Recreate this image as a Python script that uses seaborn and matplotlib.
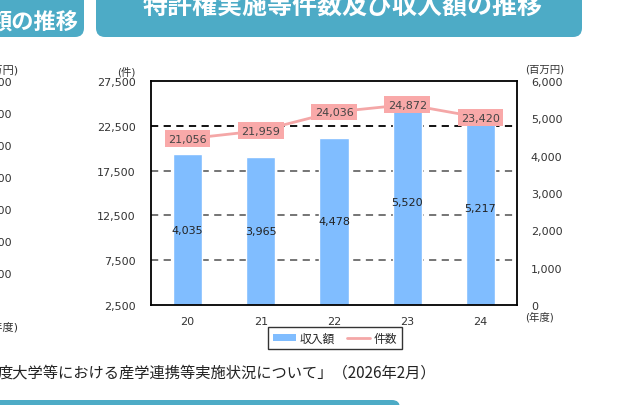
import matplotlib
matplotlib.use("Agg")
import matplotlib.pyplot as plt
import matplotlib.transforms as mtrans
import seaborn as sns
import numpy as np
import pandas as pd
from matplotlib.patches import FancyBboxPatch, Rectangle
from matplotlib.lines import Line2D

# ---------------- data ----------------
years = ["20", "21", "22", "23", "24"]
income = [4035, 3965, 4478, 5520, 5217]          # 収入額 (百万円)
counts = [21056, 21959, 24036, 24872, 23420]     # 件数 (件)
left_ticks = [2500, 7500, 12500, 17500, 22500, 27500]
right_ticks = [0, 1000, 2000, 3000, 4000, 5000, 6000]
grid_vals = [7500, 12500, 17500, 22500]
prev_ticks = ["7,000", "6,000", "5,000", "4,000", "3,000", "2,000", "1,000"]
title = "特許権実施等件数及び収入額の推移"
prev_title = "額の推移"
source = "度大学等における産学連携等実施状況について」（2026年2月）"
legend_labels = ["収入額", "件数"]

BLUE = "#80BDFF"
PINK = "#F4A7A7"
PINK_BOX = "#F9A9A9"
TEAL = "#4DABC6"

sns.set_theme(style="white")
plt.rcParams['font.family'] = ['DejaVu Sans', 'Noto Sans CJK JP']
JP = ['Noto Sans CJK JP', 'DejaVu Sans']

W, H = 618, 406
fig = plt.figure(figsize=(W / 100, H / 100), dpi=100)
fig.patch.set_facecolor("white")
ident = mtrans.IdentityTransform()

def fx(px):
    return px / W

def fy(py):
    return 1 - py / H

# ---------------- banners ----------------
fig.add_artist(FancyBboxPatch((96, H - 38), 486, 60,
                              boxstyle="round,pad=0,rounding_size=9",
                              transform=ident, fc=TEAL, ec="none"))
fig.add_artist(FancyBboxPatch((-30, H - 38), 114, 60,
                              boxstyle="round,pad=0,rounding_size=9",
                              transform=ident, fc=TEAL, ec="none"))
fig.add_artist(FancyBboxPatch((-30, -30), 430, 35,
                              boxstyle="round,pad=0,rounding_size=8",
                              transform=ident, fc=TEAL, ec="none"))
fig.text(fx(343), fy(7), title, color="white", fontsize=18, fontweight="bold",
         ha="center", va="center", family=JP)
fig.text(fx(79), fy(23), prev_title, color="white", fontsize=16, fontweight="bold",
         ha="right", va="center", family=JP)
fig.text(fx(-2), fy(373), source, color="#222", fontsize=11, ha="left",
         va="center", family=JP)

# left (cut) chart remnants
fig.text(fx(18), fy(70), "(百万円)", fontsize=8, color="#333", ha="right", va="center")
for k, lab in enumerate(prev_ticks):
    fig.text(fx(12), fy(83 + k * 32), lab, fontsize=8, color="#333", ha="right", va="center")
fig.text(fx(18), fy(327), "(年度)", fontsize=8, color="#333", ha="right", va="center")

# ---------------- main chart ----------------
L, R, T, B = 151, 517, 82, 306
ax = fig.add_axes([fx(L), fy(B), (R - L) / W, (B - T) / H])
axb = ax.twinx()
axl = ax.twinx()
ax.set_zorder(0)
axb.set_zorder(1)
axl.set_zorder(2)
for a in (axb, axl):
    a.patch.set_visible(False)
ax.patch.set_facecolor("white")

# grid on left scale
for g in grid_vals:
    ax.axhline(g, color="black" if g == 22500 else "#6a6a6a", lw=1.3,
               ls=(0, (4, 3)), zorder=0)

sns.barplot(x=years, y=income, color=BLUE, saturation=1, width=0.4, ax=axb)
axb.bar_label(axb.containers[0], labels=[f"{v:,}" for v in income],
              label_type="center", fontsize=8, color="#222")

sns.pointplot(x=years, y=counts, color=PINK, marker="", markersize=0,
              linewidth=2, errorbar=None, ax=axl)
for i, v in enumerate(counts):
    axl.text(i, v, f"{v:,}", ha="center", va="center", fontsize=8, color="#444",
             bbox=dict(boxstyle="square,pad=0.3", fc=PINK_BOX, ec="none"))

for a in (ax, axb, axl):
    a.set_xlim(-0.5, 4.5)
ax.set_ylim(2500, 27500)
axl.set_ylim(2500, 27500)
axb.set_ylim(0, 6000)

ax.set_yticks(left_ticks, [f"{t:,}" for t in left_ticks])
axb.set_yticks(right_ticks, [f"{t:,}" for t in right_ticks])
axl.set_yticks([])
ax.set_xticks(range(len(years)), years)
for a in (ax, axb, axl):
    a.set_xlabel("")
    a.set_ylabel("")
ax.tick_params(axis="y", length=0, pad=11, labelsize=8, labelcolor="#333")
axb.tick_params(axis="y", length=0, pad=10, labelsize=8, labelcolor="#333")
ax.tick_params(axis="x", length=0, pad=8, labelsize=8, labelcolor="#333")

for a in (ax, axb):
    for s in a.spines.values():
        s.set_visible(False)
for s in axl.spines.values():
    s.set_visible(True)
    s.set_color("black")
    s.set_linewidth(1.3)

fig.text(fx(126), fy(72), "(件)", fontsize=7.5, color="#333", ha="center", va="center")
fig.text(fx(525), fy(70), "(百万円)", fontsize=7.5, color="#333", ha="left", va="center")
fig.text(fx(525), fy(317), "(年度)", fontsize=7.5, color="#333", ha="left", va="center")

handles = [Rectangle((0, 0), 1, 1, fc=BLUE, ec="none"),
           Line2D([], [], color=PINK, lw=2)]
leg = fig.legend(handles, legend_labels, loc="center", bbox_to_anchor=(fx(335), fy(339)),
                 ncol=2, frameon=True, fancybox=False, handlelength=2.0,
                 handleheight=0.6, columnspacing=1.0, handletextpad=0.3,
                 borderpad=0.4, prop={"family": JP, "size": 8.5})
leg.get_frame().set_edgecolor("black")
leg.get_frame().set_linewidth(1.0)

fig.savefig("out.png", dpi=100)
